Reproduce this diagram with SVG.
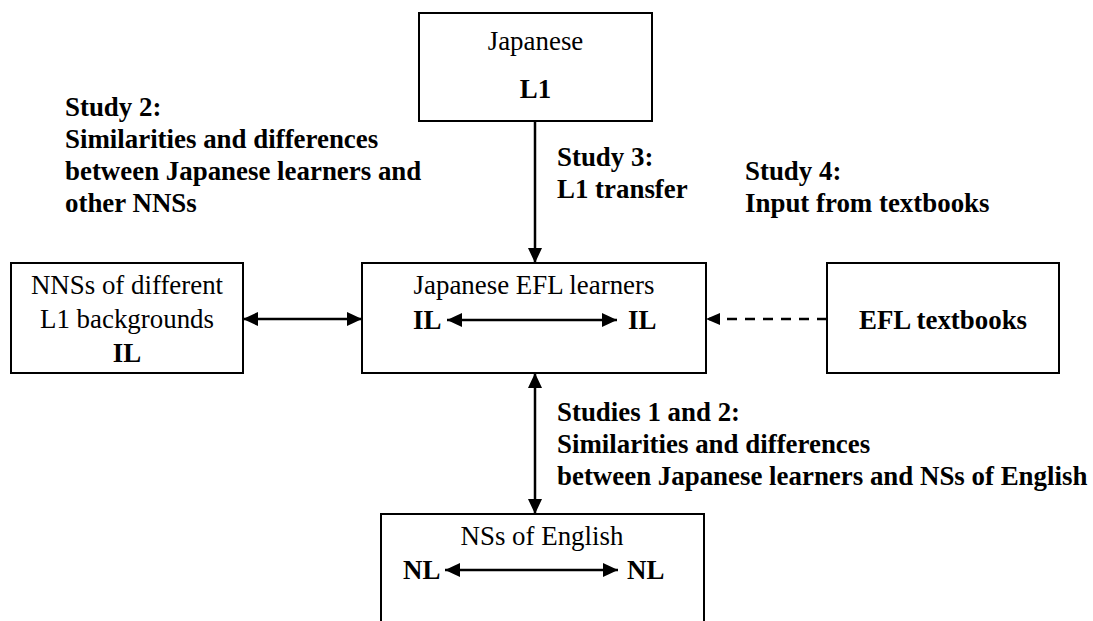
<svg xmlns="http://www.w3.org/2000/svg" width="1093" height="621" viewBox="0 0 1093 621">
  <style>
    .box { fill: #ffffff; stroke: #000000; stroke-width: 2; }
    .t { font-size: 26.9px; fill: #000000; }
    .b { font-weight: bold; }
    .mid { text-anchor: middle; }
    .line { stroke: #000000; stroke-width: 2.5; fill: none; }
    .dash { stroke-dasharray: 10 8; }
  </style>
  <defs>
    <marker id="head" viewBox="0 0 15 14" refX="15" refY="7" markerWidth="15" markerHeight="14" markerUnits="userSpaceOnUse" orient="auto-start-reverse">
      <path d="M0,0 L15,7 L0,14 Z" fill="#000000"/>
    </marker>
    <marker id="head-small" viewBox="0 0 14 12" refX="14" refY="6" markerWidth="14" markerHeight="12" markerUnits="userSpaceOnUse" orient="auto">
      <path d="M0,0 L14,6 L0,12 Z" fill="#000000"/>
    </marker>
  </defs>

  <rect width="1093" height="621" fill="#ffffff"/>

  <g font-family="Liberation Serif">
    <!-- study annotations -->
    <g id="labels">
      <text class="t b" x="65" y="116">Study 2:</text>
      <text class="t b" x="65" y="148">Similarities and differences</text>
      <text class="t b" x="65" y="180">between Japanese learners and</text>
      <text class="t b" x="65" y="212">other NNSs</text>

      <text class="t b" x="557" y="166">Study 3:</text>
      <text class="t b" x="557" y="198">L1 transfer</text>

      <text class="t b" x="745" y="180">Study 4:</text>
      <text class="t b" x="745" y="212">Input from textbooks</text>

      <text class="t b" x="557" y="421">Studies 1 and 2:</text>
      <text class="t b" x="557" y="453">Similarities and differences</text>
      <text class="t b" x="557" y="485">between Japanese learners and NSs of English</text>
    </g>

    <!-- connectors -->
    <g id="connectors">
      <line class="line" x1="535" y1="121" x2="535" y2="263" marker-end="url(#head)"/>
      <line class="line" x1="243" y1="319" x2="362" y2="319" marker-start="url(#head)" marker-end="url(#head)"/>
      <line class="line dash" x1="827" y1="319" x2="706" y2="319" marker-end="url(#head-small)"/>
      <line class="line" x1="535" y1="373" x2="535" y2="514" marker-start="url(#head)" marker-end="url(#head)"/>
    </g>

    <g id="node-l1">
      <rect class="box" x="419" y="13" width="233" height="108"/>
      <text class="t mid" x="535.5" y="50">Japanese</text>
      <text class="t b mid" x="535.5" y="98">L1</text>
    </g>

    <g id="node-nns">
      <rect class="box" x="11" y="263" width="232" height="110"/>
      <text class="t mid" x="127" y="294">NNSs of different</text>
      <text class="t mid" x="127" y="328">L1 backgrounds</text>
      <text class="t b mid" x="127" y="362">IL</text>
    </g>

    <g id="node-learners">
      <rect class="box" x="362" y="263" width="344" height="110"/>
      <text class="t mid" x="534" y="294">Japanese EFL learners</text>
      <text class="t b" x="413" y="329">IL</text>
      <line class="line" x1="447" y1="320" x2="617" y2="320" marker-start="url(#head)" marker-end="url(#head)"/>
      <text class="t b" x="628" y="329">IL</text>
    </g>

    <g id="node-textbooks">
      <rect class="box" x="827" y="263" width="232" height="110"/>
      <text class="t b mid" x="943" y="329">EFL textbooks</text>
    </g>

    <g id="node-ns">
      <rect class="box" x="381" y="514" width="323" height="140"/>
      <text class="t mid" x="542" y="545">NSs of English</text>
      <text class="t b" x="403" y="579">NL</text>
      <line class="line" x1="445" y1="570" x2="618" y2="570" marker-start="url(#head)" marker-end="url(#head)"/>
      <text class="t b" x="627" y="579">NL</text>
    </g>
  </g>
</svg>
